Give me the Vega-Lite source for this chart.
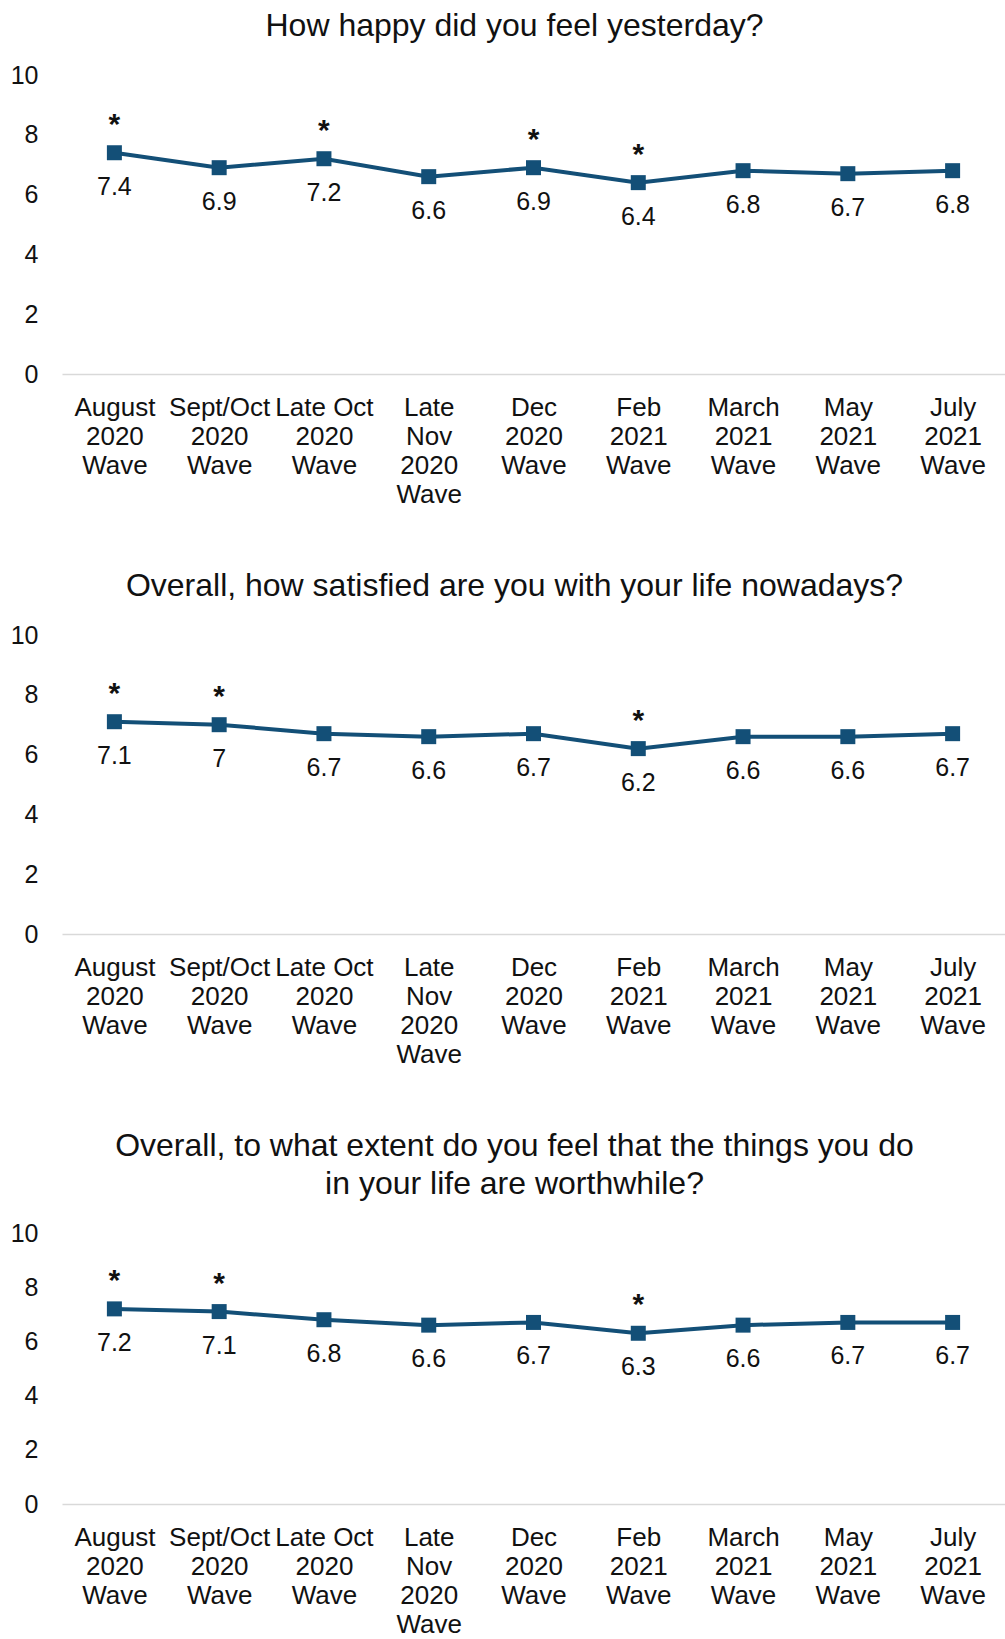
{
  "$schema": "https://vega.github.io/schema/vega-lite/v6.json",
  "padding": {"left": 10, "top": 10, "right": 0, "bottom": 0},
  "background": "white",
  "spacing": 62,
  "config": {
    "view": {"stroke": null},
    "font": "Liberation Sans",
    "title": {"fontSize": 32, "fontWeight": "normal", "color": "#111111", "font": "Liberation Sans", "offset": 20, "dx": -19, "lineHeight": 38, "anchor": "middle"},
    "axisX": {"title": null, "labelAngle": 0, "labelFontSize": 26, "labelLineHeight": 29.3, "labelColor": "#111111", "domainColor": "#d9d9d9", "domainWidth": 1.5, "ticks": false, "grid": false, "labelPadding": 20,
      "labelExpr": "datum.label == 'Late Oct 2020 Wave' ? ['Late Oct', '2020', 'Wave'] : split(datum.label, ' ')"},
    "axisY": {"title": null, "labelFontSize": 25, "labelColor": "#111111", "domain": false, "ticks": false, "grid": false, "labelPadding": 24}
  },
  "datasets": {
    "happy": [
      {"wave": "August 2020 Wave", "score": 7.4, "sig": true},
      {"wave": "Sept/Oct 2020 Wave", "score": 6.9, "sig": false},
      {"wave": "Late Oct 2020 Wave", "score": 7.2, "sig": true},
      {"wave": "Late Nov 2020 Wave", "score": 6.6, "sig": false},
      {"wave": "Dec 2020 Wave", "score": 6.9, "sig": true},
      {"wave": "Feb 2021 Wave", "score": 6.4, "sig": true},
      {"wave": "March 2021 Wave", "score": 6.8, "sig": false},
      {"wave": "May 2021 Wave", "score": 6.7, "sig": false},
      {"wave": "July 2021 Wave", "score": 6.8, "sig": false}
    ],
    "satisfied": [
      {"wave": "August 2020 Wave", "score": 7.1, "sig": true},
      {"wave": "Sept/Oct 2020 Wave", "score": 7.0, "sig": true},
      {"wave": "Late Oct 2020 Wave", "score": 6.7, "sig": false},
      {"wave": "Late Nov 2020 Wave", "score": 6.6, "sig": false},
      {"wave": "Dec 2020 Wave", "score": 6.7, "sig": false},
      {"wave": "Feb 2021 Wave", "score": 6.2, "sig": true},
      {"wave": "March 2021 Wave", "score": 6.6, "sig": false},
      {"wave": "May 2021 Wave", "score": 6.6, "sig": false},
      {"wave": "July 2021 Wave", "score": 6.7, "sig": false}
    ],
    "worthwhile": [
      {"wave": "August 2020 Wave", "score": 7.2, "sig": true},
      {"wave": "Sept/Oct 2020 Wave", "score": 7.1, "sig": true},
      {"wave": "Late Oct 2020 Wave", "score": 6.8, "sig": false},
      {"wave": "Late Nov 2020 Wave", "score": 6.6, "sig": false},
      {"wave": "Dec 2020 Wave", "score": 6.7, "sig": false},
      {"wave": "Feb 2021 Wave", "score": 6.3, "sig": true},
      {"wave": "March 2021 Wave", "score": 6.6, "sig": false},
      {"wave": "May 2021 Wave", "score": 6.7, "sig": false},
      {"wave": "July 2021 Wave", "score": 6.7, "sig": false}
    ]
  },
  "vconcat": [
    {
      "title": {"text": "How happy did you feel yesterday?"},
      "width": 943, "height": 299,
      "data": {"name": "happy"},
      "encoding": {
        "x": {"field": "wave", "type": "ordinal", "sort": null},
        "y": {"field": "score", "type": "quantitative", "scale": {"domain": [0, 10]}, "axis": {"values": [0, 2, 4, 6, 8, 10]}}
      },
      "layer": [
        {"mark": {"type": "line", "color": "#134f77", "strokeWidth": 4}},
        {"mark": {"type": "square", "size": 225, "color": "#134f77", "filled": true, "opacity": 1}},
        {"mark": {"type": "text", "dy": 34, "fontSize": 25, "color": "#111111", "baseline": "middle"}, "encoding": {"text": {"field": "score", "type": "quantitative"}}},
        {"transform": [{"filter": "datum.sig"}], "mark": {"type": "text", "text": "*", "dy": -19, "fontSize": 30, "fontWeight": "bold", "color": "#111111", "baseline": "alphabetic"}}
      ]
    },
    {
      "title": {"text": "Overall, how satisfied are you with your life nowadays?"},
      "width": 943, "height": 299,
      "data": {"name": "satisfied"},
      "encoding": {
        "x": {"field": "wave", "type": "ordinal", "sort": null},
        "y": {"field": "score", "type": "quantitative", "scale": {"domain": [0, 10]}, "axis": {"values": [0, 2, 4, 6, 8, 10]}}
      },
      "layer": [
        {"mark": {"type": "line", "color": "#134f77", "strokeWidth": 4}},
        {"mark": {"type": "square", "size": 225, "color": "#134f77", "filled": true, "opacity": 1}},
        {"mark": {"type": "text", "dy": 34, "fontSize": 25, "color": "#111111", "baseline": "middle"}, "encoding": {"text": {"field": "score", "type": "quantitative"}}},
        {"transform": [{"filter": "datum.sig"}], "mark": {"type": "text", "text": "*", "dy": -19, "fontSize": 30, "fontWeight": "bold", "color": "#111111", "baseline": "alphabetic"}}
      ]
    },
    {
      "title": {"text": ["Overall, to what extent do you feel that the things you do", "in your life are worthwhile?"]},
      "width": 943, "height": 271,
      "data": {"name": "worthwhile"},
      "encoding": {
        "x": {"field": "wave", "type": "ordinal", "sort": null},
        "y": {"field": "score", "type": "quantitative", "scale": {"domain": [0, 10]}, "axis": {"values": [0, 2, 4, 6, 8, 10]}}
      },
      "layer": [
        {"mark": {"type": "line", "color": "#134f77", "strokeWidth": 4}},
        {"mark": {"type": "square", "size": 225, "color": "#134f77", "filled": true, "opacity": 1}},
        {"mark": {"type": "text", "dy": 34, "fontSize": 25, "color": "#111111", "baseline": "middle"}, "encoding": {"text": {"field": "score", "type": "quantitative"}}},
        {"transform": [{"filter": "datum.sig"}], "mark": {"type": "text", "text": "*", "dy": -19, "fontSize": 30, "fontWeight": "bold", "color": "#111111", "baseline": "alphabetic"}}
      ]
    }
  ]
}
